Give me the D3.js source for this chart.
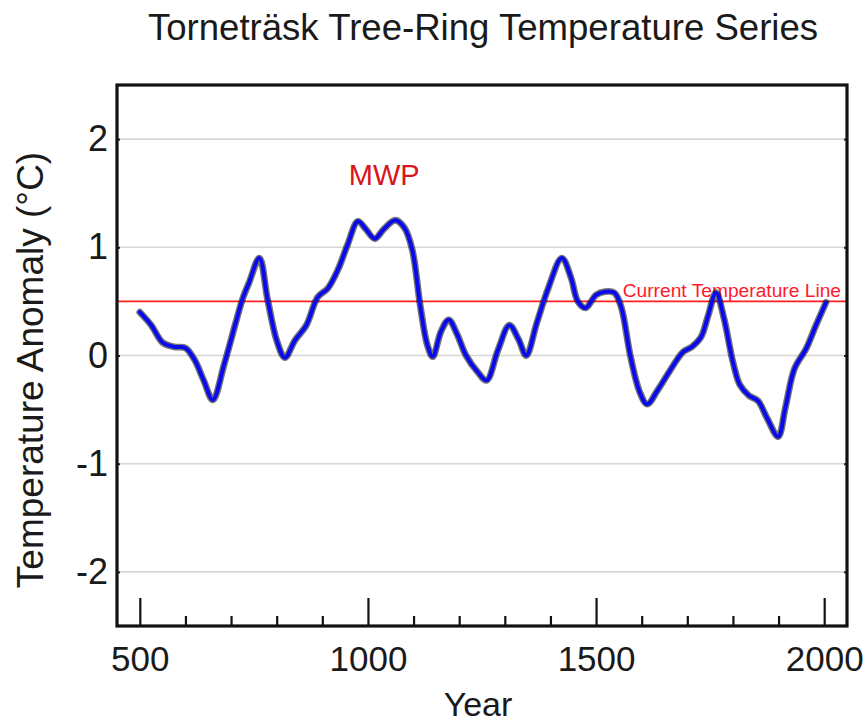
<!DOCTYPE html>
<html>
<head>
<meta charset="utf-8">
<script src="https://cdn.jsdelivr.net/npm/d3@7"></script>
<style>
  html, body { margin: 0; padding: 0; background: #fff; }
  svg { display: block; }
  text { font-family: "Liberation Sans", Arial, Helvetica, sans-serif; }
</style>
</head>
<body>
<svg id="chart" width="868" height="724"></svg>
<script>
// ---- data ----
const years = [500, 525, 550, 575, 600, 620, 640, 660, 685, 710, 725, 740, 762, 780, 800, 818,
  840, 865, 890, 912, 935, 955, 978, 995, 1015, 1035, 1060, 1080, 1097, 1115, 1130, 1142,
  1160, 1177, 1195, 1215, 1240, 1260, 1285, 1310, 1330, 1347, 1370, 1395, 1425, 1445, 1460,
  1477, 1500, 1520, 1540, 1555, 1575, 1595, 1612, 1635, 1662, 1690, 1710, 1730, 1745, 1763,
  1780, 1800, 1815, 1835, 1855, 1875, 1899, 1915, 1935, 1960, 1982, 2004];
const anomaly = [0.40, 0.28, 0.12, 0.08, 0.07, -0.04, -0.23, -0.41, -0.08, 0.30, 0.52, 0.68, 0.90, 0.52, 0.14, -0.02,
  0.14, 0.28, 0.54, 0.62, 0.80, 1.02, 1.24, 1.17, 1.08, 1.17, 1.25, 1.18, 0.98, 0.45, 0.10, -0.01,
  0.22, 0.33, 0.20, 0.00, -0.15, -0.23, 0.05, 0.28, 0.15, 0.00, 0.30, 0.62, 0.90, 0.72, 0.50,
  0.44, 0.56, 0.59, 0.58, 0.45, 0.00, -0.33, -0.45, -0.32, -0.14, 0.03, 0.08, 0.17, 0.36, 0.58,
  0.35, -0.06, -0.27, -0.37, -0.42, -0.58, -0.75, -0.48, -0.12, 0.06, 0.28, 0.49];
const currentTemp = 0.5;
const xTickValues = [500, 1000, 1500, 2000];
const xMinorTickValues = [600, 700, 800, 900, 1100, 1200, 1300, 1400, 1600, 1700, 1800, 1900];
const yTickValues = [-2, -1, 0, 1, 2];
const titleText = "Torneträsk Tree-Ring Temperature Series";
const xLabelText = "Year";
const yLabelText = "Temperature Anomaly (°C)";
const currentLabelText = "Current Temperature Line";
const annotationText = "MWP";
const annotationYear = 1040;
const annotationValue = 1.58;

// ---- layout ----
const svg = d3.select("#chart");
const plotLeft = 117, plotRight = 847, plotTop = 85, plotBottom = 626;

const x = d3.scaleLinear().domain([450, 2050]).range([plotLeft, plotRight]);
const y = d3.scaleLinear().domain([-2.5, 2.5]).range([plotBottom, plotTop]);

// gridlines
svg.append("g")
  .selectAll("line")
  .data(yTickValues)
  .join("line")
  .attr("x1", plotLeft).attr("x2", plotRight)
  .attr("y1", d => y(d)).attr("y2", d => y(d))
  .attr("stroke", "#d6d6d6")
  .attr("stroke-width", 1.6);

// current temperature line
svg.append("line")
  .attr("x1", plotLeft).attr("x2", plotRight)
  .attr("y1", y(currentTemp)).attr("y2", y(currentTemp))
  .attr("stroke", "#ff1f1f")
  .attr("stroke-width", 1.8);

svg.append("text")
  .attr("x", plotRight - 6)
  .attr("y", y(currentTemp) - 4)
  .attr("text-anchor", "end")
  .attr("font-size", 19.2)
  .attr("fill", "#ff1a2a")
  .text(currentLabelText);

// series
const data = years.map((yr, i) => ({ year: yr, value: anomaly[i] }));
const line = d3.line()
  .x(d => x(d.year))
  .y(d => y(d.value))
  .curve(d3.curveCatmullRom.alpha(0.5));

svg.append("path")
  .datum(data)
  .attr("d", line)
  .attr("fill", "none")
  .attr("stroke", "#000")
  .attr("stroke-opacity", 0.55)
  .attr("stroke-width", 6.8)
  .attr("stroke-linejoin", "round")
  .attr("stroke-linecap", "round");

svg.append("path")
  .datum(data)
  .attr("d", line)
  .attr("fill", "none")
  .attr("stroke", "#0a0aee")
  .attr("stroke-width", 4)
  .attr("stroke-linejoin", "round")
  .attr("stroke-linecap", "round");

// annotation
svg.append("text")
  .attr("x", x(annotationYear) - 2)
  .attr("y", y(annotationValue))
  .attr("text-anchor", "middle")
  .attr("font-size", 29)
  .attr("fill", "#d8141c")
  .text(annotationText);

// x axis (major ticks inward)
const xAxis = svg.append("g")
  .attr("transform", `translate(0,${plotBottom})`)
  .call(d3.axisBottom(x)
    .tickValues(xTickValues)
    .tickFormat(d => String(d))
    .tickSizeInner(-28)
    .tickSizeOuter(0)
    .tickPadding(20));
xAxis.select(".domain").remove();
xAxis.selectAll(".tick line").attr("stroke", "#111").attr("stroke-width", 2.2);
xAxis.selectAll(".tick text")
  .attr("font-size", 35)
  .attr("fill", "#1a1a1a")
  .attr("font-family", "Liberation Sans, Arial, sans-serif");

const xMinor = svg.append("g")
  .attr("transform", `translate(0,${plotBottom})`)
  .call(d3.axisBottom(x)
    .tickValues(xMinorTickValues)
    .tickFormat("")
    .tickSizeInner(-10)
    .tickSizeOuter(0));
xMinor.select(".domain").remove();
xMinor.selectAll(".tick line").attr("stroke", "#111").attr("stroke-width", 2.2);

// y axis
const yAxis = svg.append("g")
  .attr("transform", `translate(${plotLeft},0)`)
  .call(d3.axisLeft(y)
    .tickValues(yTickValues)
    .tickFormat(d => String(d))
    .tickSizeInner(-3)
    .tickSizeOuter(0)
    .tickPadding(9));
yAxis.select(".domain").remove();
yAxis.selectAll(".tick line").attr("stroke", "#222").attr("stroke-width", 2);
yAxis.selectAll(".tick text")
  .attr("font-size", 36)
  .attr("fill", "#1a1a1a")
  .attr("font-family", "Liberation Sans, Arial, sans-serif");

const yRight = svg.append("g")
  .attr("transform", `translate(${plotRight},0)`)
  .call(d3.axisRight(y)
    .tickValues(yTickValues)
    .tickFormat("")
    .tickSizeInner(-3)
    .tickSizeOuter(0));
yRight.select(".domain").remove();
yRight.selectAll(".tick line").attr("stroke", "#222").attr("stroke-width", 2);

// frame
svg.append("rect")
  .attr("x", plotLeft).attr("y", plotTop)
  .attr("width", plotRight - plotLeft).attr("height", plotBottom - plotTop)
  .attr("fill", "none")
  .attr("stroke", "#111")
  .attr("stroke-width", 3.2);

// title and axis labels
svg.append("text")
  .attr("x", 483).attr("y", 40)
  .attr("text-anchor", "middle")
  .attr("font-size", 36.6)
  .attr("fill", "#1a1a1a")
  .text(titleText);

svg.append("text")
  .attr("x", 478).attr("y", 716)
  .attr("text-anchor", "middle")
  .attr("font-size", 34)
  .attr("fill", "#1a1a1a")
  .text(xLabelText);

svg.append("text")
  .attr("transform", "translate(43,370) rotate(-90)")
  .attr("text-anchor", "middle")
  .attr("font-size", 37)
  .attr("fill", "#1a1a1a")
  .text(yLabelText);
</script>
</body>
</html>
